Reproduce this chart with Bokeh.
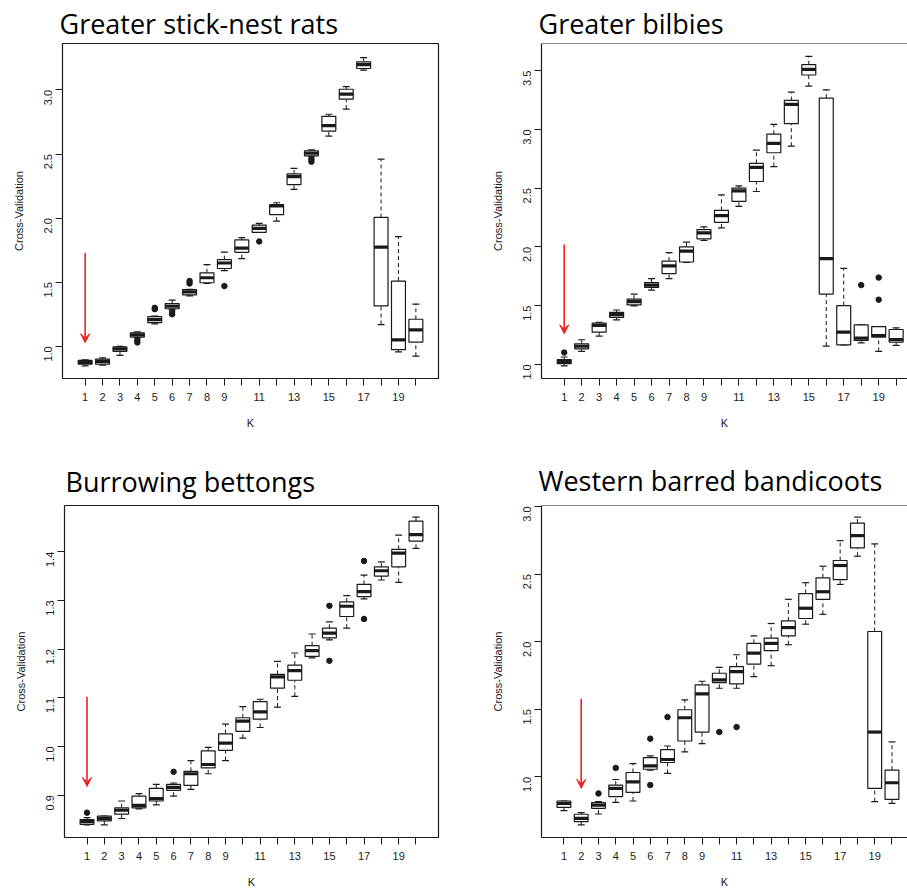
import math
from bokeh.plotting import figure
from bokeh.models import Range1d, FixedTicker, PrintfTickFormatter, Arrow, VeeHead, Span
from bokeh.layouts import column, row
from bokeh.embed import file_html
from bokeh.resources import INLINE

# ---------------- data ----------------
K = list(range(1, 21))
x_tick_labels = ["1", "2", "3", "4", "5", "6", "7", "8", "9", "", "11", "", "13", "", "15", "", "17", "", "19", ""]

# Greater stick-nest rats
gsnr_lower = [0.848, 0.853, 0.93, 1.068, 1.175, 1.288, 1.393, 1.49, 1.59, 1.684, 1.89, 1.977, 2.224, 2.48, 2.64, 2.85, 3.154, 1.17, 0.956, 0.923]
gsnr_q1 = [0.861, 0.861, 0.961, 1.072, 1.185, 1.293, 1.401, 1.496, 1.607, 1.733, 1.889, 2.028, 2.262, 2.486, 2.679, 2.928, 3.167, 1.316, 0.974, 1.033]
gsnr_median = [0.875, 0.882, 0.98, 1.09, 1.208, 1.314, 1.424, 1.535, 1.65, 1.766, 1.92, 2.095, 2.324, 2.506, 2.722, 2.967, 3.198, 1.774, 1.051, 1.129]
gsnr_q3 = [0.89, 0.9, 0.995, 1.105, 1.231, 1.334, 1.442, 1.573, 1.676, 1.83, 1.946, 2.105, 2.345, 2.524, 2.794, 3.005, 3.219, 2.005, 1.509, 1.211]
gsnr_upper = [0.895, 0.91, 1.0, 1.113, 1.236, 1.36, 1.445, 1.638, 1.735, 1.848, 1.959, 2.12, 2.388, 2.532, 2.81, 3.026, 3.252, 2.46, 1.856, 1.329]
gsnr_out_k = [4, 4, 5, 5, 6, 6, 7, 7, 9, 11, 14, 14]
gsnr_out_v = [1.03, 1.05, 1.29, 1.30, 1.25, 1.27, 1.49, 1.51, 1.47, 1.818, 2.44, 2.46]
gsnr_y_ticks = [1.0, 1.5, 2.0, 2.5, 3.0]

# Greater bilbies
bilby_lower = [0.986, 1.11, 1.24, 1.378, 1.498, 1.631, 1.73, 1.868, 2.054, 2.161, 2.344, 2.471, 2.683, 2.857, 3.368, 1.155, 1.166, 1.183, 1.11, 1.161]
bilby_q1 = [1.006, 1.132, 1.273, 1.40, 1.505, 1.654, 1.772, 1.871, 2.068, 2.209, 2.387, 2.556, 2.801, 3.049, 3.463, 1.598, 1.166, 1.203, 1.231, 1.189]
bilby_median = [1.023, 1.155, 1.33, 1.423, 1.533, 1.674, 1.837, 1.964, 2.119, 2.266, 2.477, 2.677, 2.88, 3.213, 3.511, 1.899, 1.273, 1.223, 1.245, 1.211]
bilby_q3 = [1.039, 1.175, 1.35, 1.442, 1.555, 1.696, 1.879, 2.0, 2.147, 2.311, 2.5, 2.711, 2.959, 3.246, 3.551, 3.266, 1.499, 1.335, 1.321, 1.296]
bilby_upper = [1.062, 1.209, 1.358, 1.462, 1.597, 1.73, 1.95, 2.04, 2.17, 2.443, 2.519, 2.823, 3.043, 3.317, 3.621, 3.337, 1.817, 1.335, 1.321, 1.31]
bilby_out_k = [1, 18, 19, 19]
bilby_out_v = [1.10, 1.674, 1.738, 1.55]
bilby_y_ticks = [1.0, 1.5, 2.0, 2.5, 3.0, 3.5]

# Burrowing bettongs
bett_lower = [0.839, 0.839, 0.852, 0.872, 0.88, 0.898, 0.912, 0.944, 0.971, 1.017, 1.039, 1.081, 1.103, 1.182, 1.219, 1.243, 1.303, 1.342, 1.337, 1.407]
bett_q1 = [0.840, 0.847, 0.861, 0.874, 0.888, 0.91, 0.92, 0.956, 0.992, 1.031, 1.056, 1.12, 1.136, 1.185, 1.223, 1.267, 1.308, 1.35, 1.369, 1.422]
bett_median = [0.8456, 0.852, 0.869, 0.879, 0.893, 0.916, 0.944, 0.963, 1.007, 1.052, 1.071, 1.143, 1.156, 1.197, 1.233, 1.288, 1.318, 1.361, 1.397, 1.435]
bett_q3 = [0.850, 0.857, 0.874, 0.898, 0.914, 0.922, 0.949, 0.991, 1.026, 1.059, 1.092, 1.148, 1.167, 1.207, 1.243, 1.297, 1.333, 1.369, 1.405, 1.463]
bett_upper = [0.854, 0.857, 0.888, 0.903, 0.922, 0.925, 0.971, 0.998, 1.046, 1.082, 1.097, 1.175, 1.192, 1.231, 1.256, 1.31, 1.352, 1.379, 1.434, 1.471]
bett_out_k = [1, 6, 15, 15, 17, 17]
bett_out_v = [0.864, 0.948, 1.289, 1.176, 1.381, 1.262]
bett_y_ticks = [0.9, 1.0, 1.1, 1.2, 1.3, 1.4]

# Western barred bandicoots
band_lower = [0.75, 0.644, 0.725, 0.811, 0.821, 1.049, 1.025, 1.184, 1.245, 1.655, 1.655, 1.741, 1.822, 1.977, 2.129, 2.202, 2.423, 2.632, 0.816, 0.804]
band_q1 = [0.774, 0.669, 0.767, 0.853, 0.885, 1.056, 1.106, 1.265, 1.331, 1.697, 1.687, 1.834, 1.933, 2.043, 2.171, 2.313, 2.458, 2.693, 0.914, 0.833]
band_median = [0.804, 0.693, 0.791, 0.914, 0.963, 1.081, 1.128, 1.437, 1.613, 1.717, 1.778, 1.915, 1.987, 2.104, 2.247, 2.369, 2.563, 2.784, 1.331, 0.956]
band_q3 = [0.821, 0.723, 0.809, 0.939, 1.032, 1.142, 1.201, 1.496, 1.68, 1.766, 1.815, 1.987, 2.026, 2.153, 2.355, 2.472, 2.6, 2.877, 2.075, 1.049]
band_upper = [0.821, 0.735, 0.816, 0.98, 1.098, 1.155, 1.228, 1.569, 1.707, 1.81, 1.903, 2.043, 2.134, 2.313, 2.436, 2.558, 2.747, 2.921, 2.723, 1.258]
band_out_k = [3, 4, 6, 6, 7, 10, 11]
band_out_v = [0.877, 1.066, 1.282, 0.939, 1.442, 1.331, 1.368]
band_y_ticks = [1.0, 1.5, 2.0, 2.5, 3.0]

# red arrows marking the chosen K
arrow_k = [1, 1, 1, 2]
arrow_from = [1.727, 2.02, 1.102, 1.577]
arrow_to = [1.028, 1.26, 0.918, 0.915]

titles = ["Greater stick-nest rats", "Greater bilbies", "Burrowing bettongs", "Western barred bandicoots"]

INK = "#1a1a1a"
LABEL_FONT = "Liberation Sans"


def make_panel(title, lower, q1, med, q3, upper, out_k, out_v, y_ticks,
               xr, yr, width, height, borders, ai, right_side,
               title_offset, title_standoff):
    p = figure(width=width, height=height, output_backend="svg", toolbar_location=None,
               x_range=Range1d(*xr), y_range=Range1d(*yr),
               min_border_top=borders[0], min_border_right=borders[1],
               min_border_bottom=borders[2], min_border_left=borders[3],
               background_fill_color="white", border_fill_color="white")
    p.xgrid.visible = False
    p.ygrid.visible = False

    p.title.text = title
    p.title.text_font = "Open Sans"
    p.title.text_font_size = "27px"
    p.title.text_font_style = "normal"
    p.title.text_color = "black"
    p.title.align = "left"
    p.title.offset = title_offset
    p.title.standoff = title_standoff

    half = 0.4
    staple = 0.2
    # whiskers (dashed)
    p.segment(x0=K, x1=K, y0=q3, y1=upper, line_color=INK, line_width=1, line_dash="4 3")
    p.segment(x0=K, x1=K, y0=lower, y1=q1, line_color=INK, line_width=1, line_dash="4 3")
    # staples
    p.segment(x0=[k - staple for k in K], x1=[k + staple for k in K], y0=upper, y1=upper,
              line_color=INK, line_width=1.2)
    p.segment(x0=[k - staple for k in K], x1=[k + staple for k in K], y0=lower, y1=lower,
              line_color=INK, line_width=1.2)
    # boxes
    p.vbar(x=K, width=2 * half, bottom=q1, top=q3, fill_color="white",
           line_color=INK, line_width=1.2)
    # medians
    p.segment(x0=[k - half for k in K], x1=[k + half for k in K], y0=med, y1=med,
              line_color=INK, line_width=3.2)
    # outliers
    p.scatter(x=out_k, y=out_v, size=5.5, marker="circle", fill_color=INK, line_color=INK)

    # arrow
    p.add_layout(Arrow(x_start=arrow_k[ai], y_start=arrow_from[ai],
                       x_end=arrow_k[ai], y_end=arrow_to[ai],
                       line_color="#ee2020", line_width=1.6,
                       end=VeeHead(size=9, fill_color="#ee2020", line_color="#ee2020", line_width=1)))

    # axes
    xa = p.xaxis[0]
    xa.ticker = FixedTicker(ticks=K)
    xa.major_label_overrides = {k: lab for k, lab in zip(K, x_tick_labels)}
    xa.axis_label = "K"
    ya = p.yaxis[0]
    ya.ticker = FixedTicker(ticks=y_ticks)
    ya.formatter = PrintfTickFormatter(format="%.1f")
    ya.axis_label = "Cross-Validation"
    ya.major_label_orientation = math.pi / 2
    for ax in (xa, ya):
        ax.major_tick_out = 7
        ax.major_tick_in = 0
        ax.minor_tick_line_color = None
        ax.major_tick_line_color = INK
        ax.major_label_text_font = LABEL_FONT
        ax.major_label_text_font_size = "11px"
        ax.major_label_text_color = INK
        ax.axis_label_text_font = LABEL_FONT
        ax.axis_label_text_font_size = "11px"
        ax.axis_label_text_font_style = "normal"
        ax.axis_label_text_color = INK
        ax.major_label_standoff = 7
        ax.axis_label_standoff = 13

    if right_side:
        p.outline_line_color = None
        xa.axis_line_color = INK
        ya.axis_line_color = INK
        xa.axis_line_width = 1.2
        ya.axis_line_width = 1.2
        p.add_layout(Span(location=yr[1], dimension="width", line_color=INK, line_width=1.2))
    else:
        p.outline_line_color = INK
        p.outline_line_width = 1.2
        p.outline_line_alpha = 1.0
        xa.axis_line_color = None
        ya.axis_line_color = None
    return p


p1 = make_panel(titles[0], gsnr_lower, gsnr_q1, gsnr_median, gsnr_q3, gsnr_upper,
                gsnr_out_k, gsnr_out_v, gsnr_y_ticks,
                (-0.3, 21.3), (0.749, 3.362), 470, 452, (41, 32, 74, 62), 0, False, -3, 3)
p2 = make_panel(titles[1], bilby_lower, bilby_q1, bilby_median, bilby_q3, bilby_upper,
                bilby_out_k, bilby_out_v, bilby_y_ticks,
                (-0.3, 20.65), (0.879, 3.731), 437, 452, (43, 0, 72, 71), 1, True, -3, 3)
p3 = make_panel(titles[2], bett_lower, bett_q1, bett_median, bett_q3, bett_upper,
                bett_out_k, bett_out_v, bett_y_ticks,
                (-0.3, 21.3), (0.813, 1.495), 470, 438, (50, 32, 53, 64), 2, False, 1, 12)
p4 = make_panel(titles[3], band_lower, band_q1, band_median, band_q3, band_upper,
                band_out_k, band_out_v, band_y_ticks,
                (-0.3, 20.9), (0.551, 3.007), 437, 438, (52, 0, 52, 71), 3, True, -3, 14)

layout = column(row(p1, p2, spacing=0), row(p3, p4, spacing=0), spacing=0)

open("out.html", "w").write(file_html(layout, INLINE))
